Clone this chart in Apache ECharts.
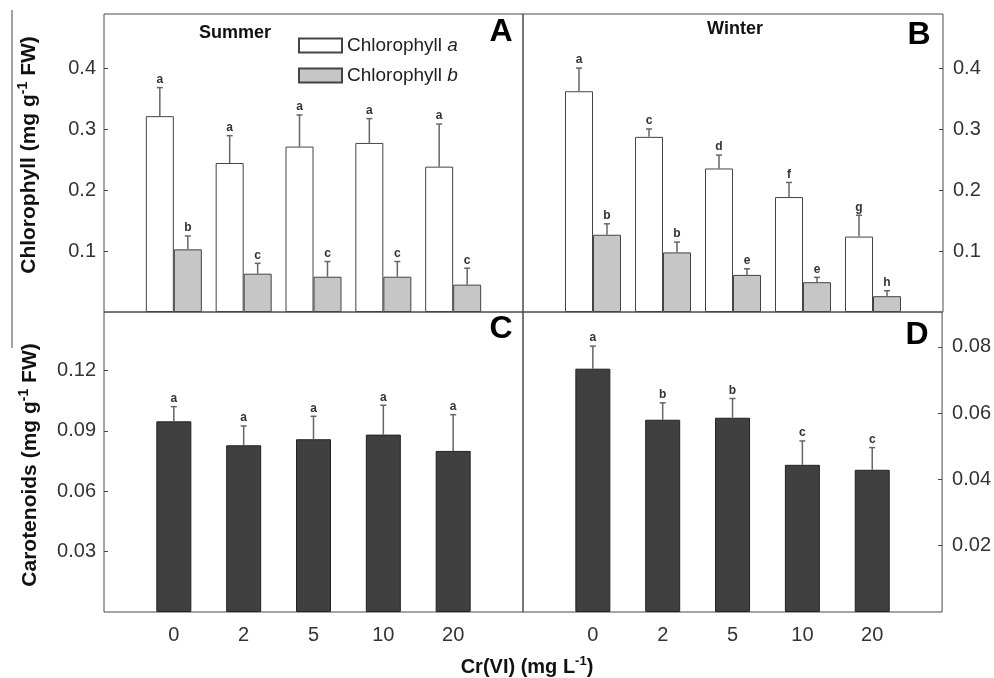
<!DOCTYPE html>
<html>
<head>
<meta charset="utf-8">
<script src="https://cdn.jsdelivr.net/npm/echarts@6/dist/echarts.min.js"></script>
<style>html,body{margin:0;padding:0;background:#fff}#c{width:994px;height:678px}</style>
</head>
<body>
<div id="c"></div>
<script>
const categories = ['0', '2', '5', '10', '20'];

const summerChlA = [0.322, 0.245, 0.272, 0.278, 0.239];
const summerChlAErr = [0.047, 0.045, 0.052, 0.040, 0.070];
const summerChlALetters = ['a', 'a', 'a', 'a', 'a'];
const summerChlB = [0.103, 0.063, 0.058, 0.058, 0.045];
const summerChlBErr = [0.022, 0.017, 0.025, 0.025, 0.027];
const summerChlBLetters = ['b', 'c', 'c', 'c', 'c'];

const winterChlA = [0.363, 0.288, 0.236, 0.189, 0.124];
const winterChlAErr = [0.038, 0.013, 0.022, 0.024, 0.035];
const winterChlALetters = ['a', 'c', 'd', 'f', 'g'];
const winterChlB = [0.127, 0.098, 0.061, 0.049, 0.026];
const winterChlBErr = [0.018, 0.017, 0.010, 0.008, 0.009];
const winterChlBLetters = ['b', 'b', 'e', 'e', 'h'];

const summerCar = [0.0947, 0.0828, 0.0858, 0.0881, 0.0800];
const summerCarErr = [0.0073, 0.0096, 0.0114, 0.0146, 0.0180];
const summerCarLetters = ['a', 'a', 'a', 'a', 'a'];
const winterCar = [0.0734, 0.0580, 0.0586, 0.0444, 0.0429];
const winterCarErr = [0.0068, 0.0051, 0.0058, 0.0072, 0.0067];
const winterCarLetters = ['a', 'b', 'b', 'c', 'c'];

const FONT = "'Liberation Sans', Arial, sans-serif";
const axisCats = [' ', ...categories, '  '];

const chart = echarts.init(document.getElementById('c'), null, {renderer: 'canvas'});

const grids = [
  {left: 104, top: 14, width: 419, height: 298},
  {left: 523, top: 14, width: 420, height: 298},
  {left: 104, top: 312, width: 419, height: 300},
  {left: 523, top: 312, width: 420, height: 300}
].map(g => Object.assign(g, {show: true, borderColor: '#4a4a4a', borderWidth: 1, backgroundColor: 'transparent'}));

function xAx(gi, labels) {
  return {
    type: 'category', gridIndex: gi, data: axisCats, boundaryGap: false,
    axisLine: {show: false}, axisTick: {show: false},
    axisLabel: {show: labels, interval: 0, margin: 13, fontSize: 20, color: '#333', fontFamily: FONT}
  };
}
function yAx(gi, pos, max, interval) {
  return {
    type: 'value', gridIndex: gi, position: pos, min: 0, max: max, interval: interval,
    splitLine: {show: false}, axisLine: {show: false},
    axisTick: {show: true, inside: true, length: 4, lineStyle: {color: '#444'}},
    axisLabel: {
      showMinLabel: false, showMaxLabel: false, margin: pos === 'left' ? 8 : 10,
      fontSize: 20, color: '#333', fontFamily: FONT,
      formatter: v => String(v)
    }
  };
}

function barSeries(name, gi, values, color, border, width, gap) {
  return {
    type: 'bar', name: name, xAxisIndex: gi, yAxisIndex: gi,
    data: values.map((v, i) => [i + 1, v]),
    barWidth: width, barGap: gap,
    itemStyle: {color: color, borderColor: border, borderWidth: 1},
    emphasis: {disabled: true}
  };
}
function errSeries(gi, values, errs, letters, offset) {
  return {
    type: 'custom', xAxisIndex: gi, yAxisIndex: gi, z: 5, silent: true,
    data: values.map((v, i) => [i + 1, v, v + errs[i]]),
    renderItem: function (params, api) {
      const i = params.dataIndex;
      const base = api.coord([api.value(0), api.value(1)]);
      const top = api.coord([api.value(0), api.value(2)]);
      const x = base[0] + offset;
      return {
        type: 'group', children: [
          {type: 'line', shape: {x1: x, y1: base[1], x2: x, y2: top[1]}, style: {stroke: '#666', lineWidth: 1.5}},
          {type: 'line', shape: {x1: x - 3, y1: top[1], x2: x + 3, y2: top[1]}, style: {stroke: '#666', lineWidth: 1.5}},
          {type: 'text', x: x, y: top[1] - 2, style: {text: letters[i], textAlign: 'center', textVerticalAlign: 'bottom', font: 'bold 12px ' + FONT, fill: '#333'}}
        ]
      };
    }
  };
}

const WHITE = '#ffffff', GREY = '#c6c6c6', DARK = '#404040';

const supRich = {
  b: {fontSize: 21, fontWeight: 'bold', fontFamily: FONT, fill: '#111', lineHeight: 25},
  s: {fontSize: 14, fontWeight: 'bold', fontFamily: FONT, fill: '#111', verticalAlign: 'top', lineHeight: 25}
};
const supRichX = {
  b: {fontSize: 20, fontWeight: 'bold', fontFamily: FONT, fill: '#111', lineHeight: 24},
  s: {fontSize: 13, fontWeight: 'bold', fontFamily: FONT, fill: '#111', verticalAlign: 'top', lineHeight: 24}
};

const option = {
  animation: false,
  grid: grids,
  xAxis: [xAx(0, false), xAx(1, false), xAx(2, true), xAx(3, true)],
  yAxis: [yAx(0, 'left', 0.49, 0.1), yAx(1, 'right', 0.49, 0.1), yAx(2, 'left', 0.149, 0.03), yAx(3, 'right', 0.0905, 0.02)],
  legend: {
    data: ['Chlorophyll a', 'Chlorophyll b'], orient: 'vertical', left: 293, top: 31,
    itemWidth: 43, itemHeight: 14, itemGap: 11, icon: 'rect', selectedMode: false,
    formatter: n => n.replace(/ (\w)$/, ' {i|$1}'),
    textStyle: {fontSize: 19, color: '#222', fontFamily: FONT, rich: {i: {fontSize: 19, fontStyle: 'italic', color: '#222', fontFamily: FONT}}}
  },
  series: [
    barSeries('Chlorophyll a', 0, summerChlA, WHITE, '#444', 28, '0%'),
    barSeries('Chlorophyll b', 0, summerChlB, GREY, '#444', 28, '0%'),
    errSeries(0, summerChlA, summerChlAErr, summerChlALetters, -14),
    errSeries(0, summerChlB, summerChlBErr, summerChlBLetters, 14),
    barSeries('Chlorophyll a', 1, winterChlA, WHITE, '#444', 28, '0%'),
    barSeries('Chlorophyll b', 1, winterChlB, GREY, '#444', 28, '0%'),
    errSeries(1, winterChlA, winterChlAErr, winterChlALetters, -14),
    errSeries(1, winterChlB, winterChlBErr, winterChlBLetters, 14),
    barSeries('Carotenoids summer', 2, summerCar, DARK, '#222', 35, '0%'),
    errSeries(2, summerCar, summerCarErr, summerCarLetters, 0),
    barSeries('Carotenoids winter', 3, winterCar, DARK, '#222', 35, '0%'),
    errSeries(3, winterCar, winterCarErr, winterCarLetters, 0)
  ],
  graphic: [
    {type: 'line', shape: {x1: 12, y1: 10, x2: 12, y2: 348}, style: {stroke: '#444', lineWidth: 1}},
    {type: 'text', x: 235, y: 33, style: {text: 'Summer', font: 'bold 18px ' + FONT, fill: '#111', textAlign: 'center', textVerticalAlign: 'middle'}},
    {type: 'text', x: 735, y: 29, style: {text: 'Winter', font: 'bold 18px ' + FONT, fill: '#111', textAlign: 'center', textVerticalAlign: 'middle'}},
    {type: 'text', x: 501, y: 32, style: {text: 'A', font: 'bold 32px ' + FONT, fill: '#000', textAlign: 'center', textVerticalAlign: 'middle'}},
    {type: 'text', x: 919, y: 35, style: {text: 'B', font: 'bold 32px ' + FONT, fill: '#000', textAlign: 'center', textVerticalAlign: 'middle'}},
    {type: 'text', x: 501, y: 329, style: {text: 'C', font: 'bold 32px ' + FONT, fill: '#000', textAlign: 'center', textVerticalAlign: 'middle'}},
    {type: 'text', x: 917, y: 335, style: {text: 'D', font: 'bold 32px ' + FONT, fill: '#000', textAlign: 'center', textVerticalAlign: 'middle'}},
    {type: 'text', x: 29, y: 155, rotation: Math.PI / 2,
      style: {text: '{b|Chlorophyll (mg g}{s|-1}{b| FW)}', rich: supRich, textAlign: 'center', textVerticalAlign: 'middle'}},
    {type: 'text', x: 30, y: 465, rotation: Math.PI / 2,
      style: {text: '{b|Carotenoids (mg g}{s|-1}{b| FW)}', rich: supRich, textAlign: 'center', textVerticalAlign: 'middle'}},
    {type: 'text', x: 527, y: 667,
      style: {text: '{b|Cr(VI) (mg L}{s|-1}{b|)}', rich: supRichX, textAlign: 'center', textVerticalAlign: 'middle'}}
  ]
};
chart.setOption(option);
</script>
</body>
</html>
